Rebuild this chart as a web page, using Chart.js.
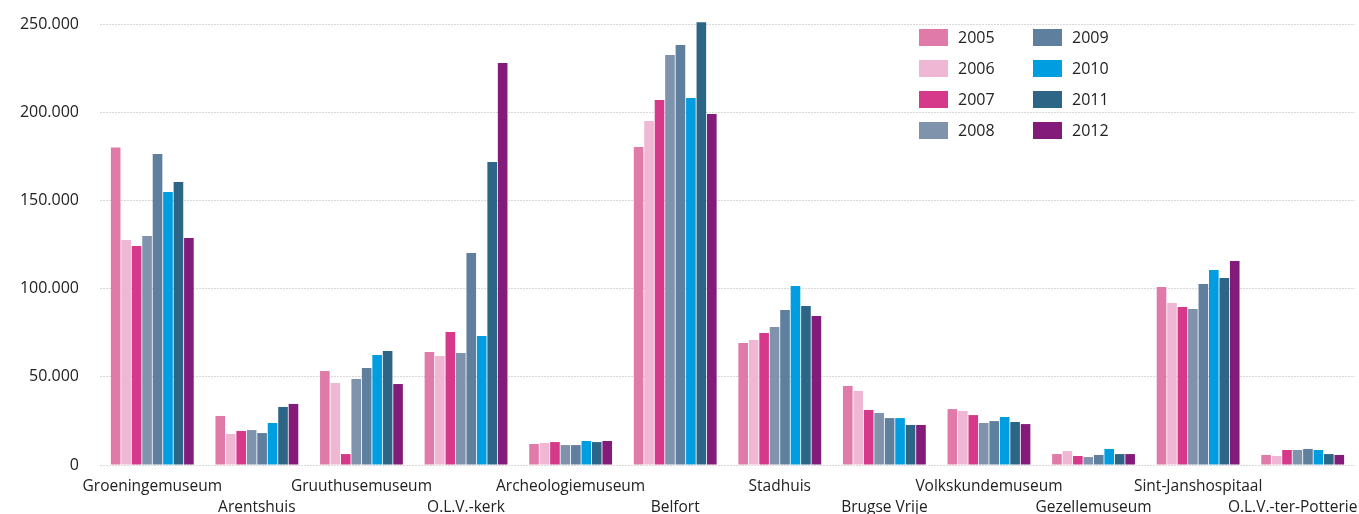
<!DOCTYPE html>
<html>
<head>
<meta charset="utf-8">
<script src="https://cdn.jsdelivr.net/npm/chart.js"></script>
<style>
  html, body { margin: 0; padding: 0; background: #fff; }
  .wrap { position: relative; width: 1359px; height: 514px; }
  #legend { position: absolute; left: 919px; top: 28px; display: grid; grid-template-columns: 114px 100px; grid-auto-flow: column; grid-template-rows: repeat(4, 31px); font-family: "Open Sans", sans-serif; font-size: 16px; color: #222; }
  #legend div { display: flex; align-items: center; height: 18px; }
  #legend span.sw { display: inline-block; width: 29px; height: 17px; margin-right: 10px; }
</style>
</head>
<body>
<div class="wrap">
  <canvas id="chart" width="1359" height="514"></canvas>
  <div id="legend"></div>
</div>
<script>
const museums = ["Groeningemuseum", "Arentshuis", "Gruuthusemuseum", "O.L.V.-kerk", "Archeologiemuseum", "Belfort",
  "Stadhuis", "Brugse Vrije", "Volkskundemuseum", "Gezellemuseum", "Sint-Janshospitaal", "O.L.V.-ter-Potterie"];
const years = ["2005", "2006", "2007", "2008", "2009", "2010", "2011", "2012"];
const colors = ["#e07aa9", "#efb7d3", "#d6398a", "#7f93ad", "#5f7f9e", "#009ee0", "#2d6587", "#831b7b"];

const v2005 = [180000, 27800, 53300, 64100, 11900, 180300, 69200, 44800, 31700, 6200, 100900, 5700];
const v2006 = [127500, 17600, 46500, 61800, 12500, 195000, 70900, 42000, 30600, 7900, 91800, 5100];
const v2007 = [124100, 19300, 6200, 75400, 13000, 206900, 74800, 31200, 28300, 5100, 89600, 8500];
const v2008 = [129800, 19800, 48800, 63500, 11300, 232400, 78200, 29500, 23800, 4500, 88400, 8500];
const v2009 = [176300, 18100, 55000, 120200, 11300, 238100, 87900, 26600, 24900, 5700, 102600, 9100];
const v2010 = [154800, 23800, 62400, 73100, 13600, 208000, 101500, 26600, 27200, 9100, 110500, 8500];
const v2011 = [160400, 32900, 64600, 171800, 13000, 251000, 90100, 22700, 24400, 6200, 106000, 6200];
const v2012 = [128700, 34600, 45900, 227900, 13600, 199000, 84500, 22700, 23200, 6200, 115600, 5700];
const series = [v2005, v2006, v2007, v2008, v2009, v2010, v2011, v2012];

// alternate the labels over two rows; the last one is nudged left so it fits
const labels = museums.map((m, i) => {
  const txt = i === museums.length - 1 ? m + "\u00a0\u00a0\u00a0\u00a0\u00a0" : m;
  return i % 2 === 0 ? [txt, ""] : ["", txt];
});

const legend = document.getElementById("legend");
years.forEach((y, i) => {
  const d = document.createElement("div");
  d.innerHTML = '<span class="sw" style="background:' + colors[i] + '"></span>' + y;
  legend.appendChild(d);
});

const fmt = (v) => String(v).replace(/\B(?=(\d{3})+(?!\d))/g, ".");

new Chart(document.getElementById("chart"), {
  type: "bar",
  data: {
    labels: labels,
    datasets: years.map((y, i) => ({
      label: y,
      data: series[i],
      backgroundColor: colors[i],
      barPercentage: 0.92,
      categoryPercentage: 0.8,
      clip: false,
    })),
  },
  options: {
    responsive: false,
    animation: false,
    layout: { padding: { top: 24, right: 4, left: 0, bottom: 0 } },
    plugins: {
      legend: { display: false },
      tooltip: { enabled: false },
    },
    scales: {
      x: {
        grid: { display: false },
        border: { display: false },
        ticks: {
          autoSkip: false,
          maxRotation: 0,
          minRotation: 0,
          padding: 4,
          color: "#222",
          font: { family: "'Open Sans', sans-serif", size: 15.5, lineHeight: 1.3 },
        },
        afterFit: (s) => { s.height = 49; s.paddingLeft = 0; s.paddingRight = 0; },
      },
      y: {
        min: 0,
        max: 250000,
        ticks: {
          stepSize: 50000,
          padding: 21,
          color: "#222",
          font: { family: "'Open Sans', sans-serif", size: 16 },
          callback: (v) => fmt(v),
        },
        grid: { color: "#d9d9d9", drawTicks: false, lineWidth: 1 },
        border: { display: false, dash: [2, 1] },
        afterFit: (s) => { s.width = 100; s.paddingTop = 0; s.paddingBottom = 0; },
      },
    },
  },
});
</script>
</body>
</html>
